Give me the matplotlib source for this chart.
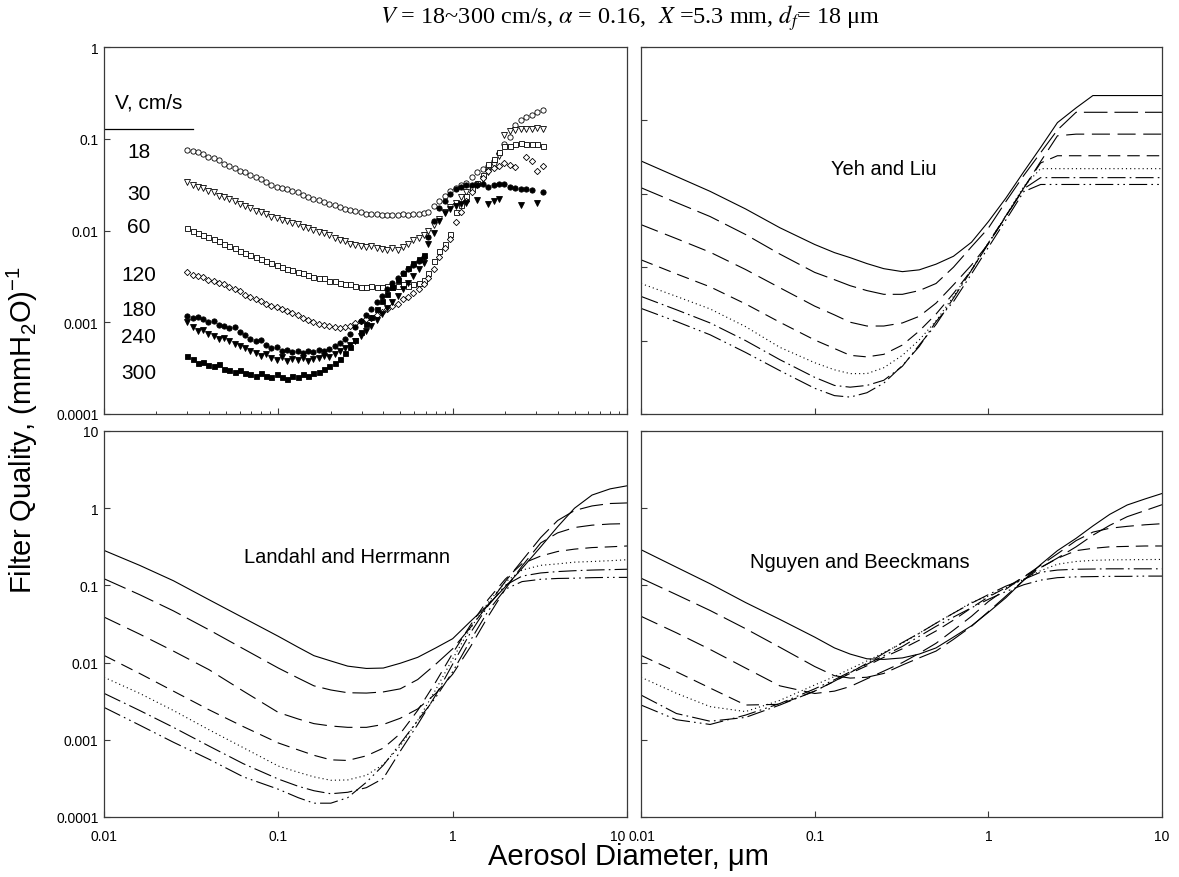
import numpy as np
import matplotlib
matplotlib.use('Agg')
import matplotlib.pyplot as plt
import matplotlib.transforms as mtransforms
from matplotlib.ticker import FixedLocator, NullLocator, NullFormatter, FixedFormatter

plt.rcParams['font.family'] = ['Liberation Sans', 'DejaVu Sans']
plt.rcParams['mathtext.fontset'] = 'custom'
plt.rcParams['mathtext.rm'] = 'Liberation Sans'
plt.rcParams['mathtext.it'] = 'Liberation Sans:italic'
plt.rcParams['lines.scale_dashes'] = False

# ---------------- data ----------------
velocities = ['18', '30', '60', '120', '180', '240', '300']

smps_d = [0.0300, 0.0322, 0.0345, 0.0370, 0.0396, 0.0425, 0.0455, 0.0488, 0.0523, 0.0561,
          0.0601, 0.0644, 0.0691, 0.0740, 0.0794, 0.0851, 0.0912, 0.0977, 0.105, 0.112,
          0.120, 0.129, 0.138, 0.148, 0.159, 0.170, 0.182, 0.196, 0.210, 0.225,
          0.241, 0.258, 0.277, 0.297, 0.318, 0.341, 0.366, 0.392, 0.420, 0.451,
          0.483, 0.518, 0.555, 0.595, 0.638, 0.684]
aps_d = [0.72, 0.78, 0.84, 0.90, 0.965, 1.04, 1.11, 1.20, 1.29, 1.38, 1.49, 1.60, 1.72, 1.84,
         1.98, 2.13, 2.29, 2.46, 2.64, 2.84, 3.05, 3.28]
nan = float('nan')

e18_smps = [0.075, 0.073, 0.071, 0.068, 0.064, 0.061, 0.058, 0.053, 0.050, 0.048, 0.045, 0.043,
            0.040, 0.038, 0.036, 0.034, 0.031, 0.030, 0.029, 0.028, 0.027, 0.026, 0.0245, 0.023,
            0.022, 0.0215, 0.0205, 0.0195, 0.019, 0.018, 0.0172, 0.0167, 0.0162, 0.0158, 0.0153,
            0.0150, 0.0152, 0.0148, 0.0146, 0.0149, 0.0148, 0.0150, 0.0149, 0.0152, 0.0151, 0.0155]
e30_smps = [0.034, 0.031, 0.030, 0.029, 0.027, 0.026, 0.024, 0.023, 0.022, 0.021, 0.0195, 0.0185,
            0.0175, 0.0165, 0.016, 0.015, 0.0142, 0.0136, 0.0131, 0.0127, 0.0122, 0.0117, 0.0110,
            0.0106, 0.0102, 0.0097, 0.0094, 0.0089, 0.0082, 0.0079, 0.0076, 0.0072, 0.0069, 0.0067,
            0.0066, 0.0068, 0.0064, 0.0063, 0.0062, 0.0064, 0.0061, 0.0066, 0.0072, 0.0078, 0.0083,
            0.0090]
e60_smps = [0.0106, 0.0100, 0.0095, 0.0090, 0.0086, 0.0080, 0.0076, 0.0071, 0.0068, 0.0064, 0.0060,
            0.0057, 0.0054, 0.0051, 0.0049, 0.0046, 0.0044, 0.0042, 0.0040, 0.0038, 0.0037, 0.0035,
            0.0034, 0.0033, 0.0031, 0.0030, 0.0030, 0.0028, 0.0028, 0.0027, 0.0026, 0.0026, 0.0025,
            0.0024, 0.0024, 0.0025, 0.0024, 0.0024, 0.0025, 0.0024, 0.0025, 0.0026, 0.0025, 0.0026,
            0.0027, 0.0029]
e120_smps = [0.0035, 0.0033, 0.0032, 0.0031, 0.0029, 0.0028, 0.0027, 0.0026, 0.0024, 0.0023, 0.0022,
             0.0020, 0.0019, 0.0018, 0.0017, 0.0016, 0.0015, 0.00145, 0.0014, 0.00132, 0.00126,
             0.0012, 0.00112, 0.00105, 0.0010, 0.00096, 0.00093, 0.0009, 0.00088, 0.00086, 0.00089,
             0.00092, 0.00097, 0.00103, 0.00108, 0.00112, 0.0012, 0.0013, 0.0014, 0.0015, 0.0016,
             0.0018, 0.0019, 0.0021, 0.0023, 0.0026]
e180_smps = [0.00118, 0.00112, 0.00115, 0.00108, 0.00100, 0.00104, 0.00094, 0.00090, 0.00086,
             0.00088, 0.00078, 0.00072, 0.00066, 0.00062, 0.00064, 0.00056, 0.00052, 0.00054,
             0.00048, 0.00050, 0.00047, 0.00049, 0.00046, 0.00048, 0.00047, 0.00050, 0.00048,
             0.00051, 0.00055, 0.00060, 0.00066, 0.00075, 0.00088, 0.00102, 0.00120, 0.00140,
             0.00165, 0.00195, 0.00230, 0.00265, 0.00300, 0.00340, 0.00380, 0.00420, 0.00470,
             0.00520]
e240_smps = [0.00100, 0.00088, 0.00080, 0.00082, 0.00074, 0.00070, 0.00066, 0.00068, 0.00062,
             0.00058, 0.00055, 0.00052, 0.00048, 0.00046, 0.00043, 0.00045, 0.00041, 0.00039,
             0.00042, 0.00038, 0.00040, 0.00039, 0.00041, 0.00038, 0.00040, 0.00041, 0.00043,
             0.00042, 0.00045, 0.00048, 0.00052, 0.00057, 0.00062, 0.00070, 0.00080, 0.00092,
             0.00105, 0.00122, 0.00142, 0.00165, 0.00195, 0.00230, 0.00270, 0.00320, 0.00380,
             0.00440]
e300_smps = [0.00043, 0.00040, 0.00036, 0.00037, 0.00034, 0.00033, 0.00035, 0.00031, 0.00030,
             0.00029, 0.00030, 0.00028, 0.00027, 0.00026, 0.00028, 0.00026, 0.00025, 0.00027,
             0.00025, 0.00024, 0.00026, 0.00025, 0.00027, 0.00026, 0.00028, 0.00029, 0.00031,
             0.00033, 0.00036, 0.00040, 0.00046, 0.00054, 0.00064, 0.00078, 0.00095, 0.00115,
             0.00140, 0.00170, 0.00205, 0.00245, 0.00290, 0.00340, 0.00390, 0.00440, 0.00490,
             0.00540]

e18_aps = [0.0158, 0.0185, 0.021, 0.024, 0.027, 0.029, 0.031, 0.033, 0.038, 0.043, 0.047, 0.051,
           0.057, 0.070, 0.087, 0.105, 0.140, 0.160, 0.172, 0.182, 0.198, 0.205]
e30_aps = [0.0100, 0.0115, 0.0135, 0.0160, 0.0180, 0.0200, 0.0230, 0.0260, 0.0280, 0.0310, 0.0360,
           0.0430, 0.0520, 0.0650, 0.110, 0.120, 0.125, 0.127, 0.128, 0.128, 0.130, 0.128]
e60_aps = [0.0034, 0.0046, 0.0060, 0.0072, 0.0091, 0.0158, 0.019, 0.0235, 0.029, 0.033, 0.040,
           0.053, 0.060, 0.072, 0.083, 0.083, 0.088, 0.091, 0.087, 0.088, 0.088, 0.083]
e120_aps = [0.0030, 0.0038, 0.0052, 0.0065, 0.0080, 0.0123, 0.016, 0.021, 0.026, 0.032, 0.037,
            0.044, 0.048, 0.050, 0.055, 0.052, 0.049, nan, 0.064, 0.057, 0.044, 0.050]
e180_aps = [0.0086, 0.0126, 0.0174, 0.021, 0.025, 0.028, 0.030, 0.031, 0.031, 0.031, 0.032, 0.030,
            0.031, 0.032, 0.032, 0.030, 0.029, 0.028, 0.028, 0.0275, nan, 0.026]
e240_aps = [0.0072, 0.0095, 0.0126, 0.0156, 0.017, 0.0185, 0.0195, 0.020, nan, 0.0215, nan, 0.0195,
            0.021, 0.022, nan, nan, nan, 0.019, nan, nan, 0.020, nan]
e300_aps = []

model_d = [0.01, 0.016, 0.025, 0.04, 0.063, 0.1, 0.13, 0.16, 0.2, 0.25, 0.32, 0.4, 0.5, 0.63,
           0.8, 1.0, 1.26, 1.6, 2.0, 2.5, 3.2, 4.0, 5.0, 6.3, 8.0, 10.0]

yeh_18 = [0.280, 0.172, 0.108, 0.0622, 0.0345, 0.0204, 0.0158, 0.0135, 0.0112, 0.00955, 0.0087,
          0.0092, 0.011, 0.0141, 0.0219, 0.0417, 0.087, 0.20, 0.427, 0.933, 1.48, 2.18, 2.18,
          2.18, 2.18, 2.18]
yeh_30 = [0.121, 0.0759, 0.049, 0.0279, 0.0151, 0.0085, 0.00676, 0.0056, 0.0048, 0.00427, 0.00427,
          0.0048, 0.006, 0.010, 0.019, 0.034, 0.078, 0.178, 0.363, 0.74, 1.29, 1.29, 1.29, 1.29,
          1.29, 1.29]
yeh_60 = [0.038, 0.0245, 0.016, 0.0093, 0.00525, 0.00295, 0.00224, 0.00178, 0.00158, 0.00158,
          0.00174, 0.00214, 0.00324, 0.00575, 0.0107, 0.0209, 0.049, 0.12, 0.275, 0.617, 0.65,
          0.65, 0.65, 0.65, 0.65, 0.65]
yeh_120 = [0.0126, 0.0081, 0.0054, 0.00316, 0.00178, 0.00102, 0.00078, 0.00063, 0.0006, 0.00065,
           0.00087, 0.00135, 0.0023, 0.0044, 0.0091, 0.0214, 0.050, 0.12, 0.263, 0.33, 0.33, 0.33,
           0.33, 0.33, 0.33, 0.33]
yeh_180 = [0.006, 0.004, 0.0027, 0.00155, 0.00081, 0.0005, 0.0004, 0.000355, 0.000355, 0.000427,
           0.00063, 0.00102, 0.00186, 0.004, 0.0093, 0.0214, 0.050, 0.126, 0.22, 0.22, 0.22, 0.22,
           0.22, 0.22, 0.22, 0.22]
yeh_240 = [0.004, 0.00263, 0.00174, 0.001, 0.00055, 0.000316, 0.000245, 0.000232, 0.000245,
           0.000288, 0.000447, 0.00087, 0.00166, 0.0038, 0.0091, 0.0209, 0.049, 0.117, 0.166,
           0.166, 0.166, 0.166, 0.166, 0.166, 0.166, 0.166]
yeh_300 = [0.00275, 0.00182, 0.0012, 0.00069, 0.00039, 0.000224, 0.000178, 0.00017, 0.000195,
           0.000263, 0.000457, 0.00083, 0.00182, 0.0034, 0.0081, 0.0186, 0.0437, 0.107, 0.134,
           0.134, 0.134, 0.134, 0.134, 0.134, 0.134, 0.134]

lh_18 = [0.284, 0.182, 0.115, 0.0653, 0.038, 0.0219, 0.0158, 0.0123, 0.0105, 0.0090, 0.0084,
         0.0085, 0.0098, 0.0117, 0.0155, 0.0204, 0.0339, 0.0562, 0.0955, 0.166, 0.316, 0.575, 1.0,
         1.48, 1.78, 1.95]
lh_30 = [0.122, 0.0759, 0.0468, 0.0266, 0.0151, 0.0085, 0.0063, 0.0050, 0.00442, 0.00407, 0.00403,
         0.00417, 0.00457, 0.00603, 0.00955, 0.0151, 0.0282, 0.0562, 0.112, 0.209, 0.417, 0.692,
         0.933, 1.07, 1.15, 1.17]
lh_60 = [0.0389, 0.0234, 0.0141, 0.0081, 0.00427, 0.00226, 0.00186, 0.00162, 0.00151, 0.00145,
         0.00145, 0.00158, 0.0019, 0.00251, 0.00398, 0.00708, 0.0158, 0.0398, 0.0891, 0.178, 0.355,
         0.479, 0.562, 0.603, 0.624, 0.631]
lh_120 = [0.0124, 0.00724, 0.00427, 0.00245, 0.00148, 0.00091, 0.00074, 0.00063, 0.00055, 0.00054,
          0.00062, 0.00078, 0.0012, 0.0024, 0.00562, 0.0132, 0.0302, 0.0661, 0.12, 0.191, 0.24,
          0.275, 0.295, 0.309, 0.316, 0.324]
lh_180 = [0.00646, 0.004, 0.0024, 0.00135, 0.00079, 0.000457, 0.00038, 0.000331, 0.000299,
          0.000302, 0.000347, 0.000479, 0.00083, 0.00178, 0.00447, 0.0112, 0.0275, 0.0603, 0.11,
          0.158, 0.182, 0.19, 0.20, 0.204, 0.209, 0.215]
lh_240 = [0.004, 0.0024, 0.00145, 0.00083, 0.00049, 0.00031, 0.00025, 0.000219, 0.0002, 0.000209,
          0.00024, 0.000316, 0.00071, 0.00158, 0.0038, 0.00955, 0.024, 0.055, 0.10, 0.132, 0.145,
          0.151, 0.155, 0.158, 0.16, 0.162]
lh_300 = [0.00263, 0.00155, 0.00093, 0.00056, 0.000331, 0.000229, 0.000178, 0.000151, 0.000151,
          0.000178, 0.000282, 0.000468, 0.00089, 0.00178, 0.00355, 0.00759, 0.0191, 0.0468, 0.0891,
          0.112, 0.12, 0.123, 0.124, 0.126, 0.127, 0.127]

nb_18 = [0.29, 0.172, 0.105, 0.060, 0.0363, 0.0214, 0.0155, 0.0129, 0.0112, 0.011, 0.0115, 0.0129,
         0.0155, 0.0214, 0.030, 0.0447, 0.069, 0.117, 0.186, 0.282, 0.407, 0.589, 0.832, 1.10,
         1.32, 1.55]
nb_30 = [0.124, 0.0759, 0.0473, 0.0275, 0.0158, 0.0089, 0.00676, 0.0063, 0.00646, 0.00724, 0.0093,
         0.0115, 0.0141, 0.020, 0.0295, 0.0457, 0.0724, 0.117, 0.17, 0.226, 0.316, 0.447, 0.60,
         0.776, 0.933, 1.11]
nb_60 = [0.0398, 0.0243, 0.0148, 0.0085, 0.005, 0.00398, 0.00427, 0.0049, 0.00617, 0.00776, 0.010,
         0.0132, 0.0178, 0.0263, 0.0398, 0.0617, 0.0891, 0.129, 0.182, 0.257, 0.38, 0.49, 0.55,
         0.582, 0.61, 0.63]
nb_120 = [0.0124, 0.0076, 0.00468, 0.00282, 0.00288, 0.00427, 0.00575, 0.00724, 0.0091, 0.0117,
          0.0151, 0.0195, 0.0257, 0.0355, 0.0513, 0.0708, 0.0933, 0.129, 0.17, 0.224, 0.282, 0.302,
          0.316, 0.32, 0.324, 0.324]
nb_180 = [0.00646, 0.004, 0.00269, 0.00232, 0.00324, 0.00513, 0.0066, 0.0083, 0.0105, 0.0135,
          0.0178, 0.024, 0.0324, 0.0437, 0.0603, 0.0724, 0.0933, 0.12, 0.155, 0.188, 0.204, 0.211,
          0.214, 0.215, 0.216, 0.217]
nb_240 = [0.0038, 0.00219, 0.00174, 0.00195, 0.00282, 0.00427, 0.00575, 0.0074, 0.0098, 0.0132,
          0.0182, 0.024, 0.0324, 0.0437, 0.0589, 0.0759, 0.0977, 0.12, 0.148, 0.158, 0.162, 0.163,
          0.164, 0.164, 0.164, 0.164]
nb_300 = [0.00282, 0.00182, 0.00158, 0.00209, 0.00295, 0.00457, 0.006, 0.0076, 0.0095, 0.0123,
          0.0162, 0.0219, 0.0295, 0.0389, 0.0513, 0.066, 0.0832, 0.102, 0.117, 0.126, 0.129, 0.13,
          0.131, 0.131, 0.132, 0.132]

x_ticks = [0.01, 0.1, 1, 10]
x_ticklabels = ['0.01', '0.1', '1', '10']
y_ticks_top = [1e-4, 1e-3, 1e-2, 1e-1, 1]
y_ticklabels_top = ['0.0001', '0.001', '0.01', '0.1', '1']
y_ticks_bot = [1e-4, 1e-3, 1e-2, 1e-1, 1, 10]
y_ticklabels_bot = ['0.0001', '0.001', '0.01', '0.1', '1', '10']

# ---------------- figure ----------------
W, H = 1179, 878
fig = plt.figure(figsize=(W / 100, H / 100), dpi=100)


def add(l, r, t, b):
    return fig.add_axes([l / W, 1 - b / H, (r - l) / W, (b - t) / H])


ax_tl = add(104, 627, 48, 415)
ax_tr = add(641, 1162, 48, 415)
ax_bl = add(104, 627, 432, 818)
ax_br = add(641, 1162, 432, 818)

spine_col = '#3a3a3a'
for ax in (ax_tl, ax_tr, ax_bl, ax_br):
    ax.set_xscale('log')
    ax.set_yscale('log')
    ax.set_xlim(0.01, 10)
    for s in ax.spines.values():
        s.set_color(spine_col)
        s.set_linewidth(0.9)
    ax.tick_params(which='both', direction='in', top=False, right=False,
                   color=spine_col, labelsize=10, pad=4)
    ax.tick_params(which='major', length=4.5, width=0.8)
    ax.tick_params(which='minor', length=2.5, width=0.7)
    ax.tick_params(axis='x', which='both', pad=9)
    ax.xaxis.set_major_locator(FixedLocator(x_ticks))
    ax.yaxis.set_minor_locator(NullLocator())

ax_tl.set_ylim(1e-4, 1)
for ax in (ax_tr, ax_bl, ax_br):
    ax.set_ylim(1e-4, 10)

# minor x ticks only in top-left
ax_tl.xaxis.set_minor_locator(FixedLocator(
    [m * 10.0 ** e for e in (-2, -1, 0) for m in range(2, 10)]))
ax_tl.xaxis.set_minor_formatter(NullFormatter())
for ax in (ax_tr, ax_bl, ax_br):
    ax.xaxis.set_minor_locator(NullLocator())

ax_tl.yaxis.set_major_locator(FixedLocator(y_ticks_top))
ax_tl.yaxis.set_major_formatter(FixedFormatter(y_ticklabels_top))
ax_tl.xaxis.set_major_formatter(NullFormatter())

ax_tr.yaxis.set_major_locator(FixedLocator(y_ticks_bot))
ax_tr.yaxis.set_major_formatter(NullFormatter())
ax_tr.xaxis.set_major_formatter(NullFormatter())

ax_bl.yaxis.set_major_locator(FixedLocator(y_ticks_bot))
ax_bl.yaxis.set_major_formatter(FixedFormatter(y_ticklabels_bot))
ax_bl.xaxis.set_major_formatter(FixedFormatter(x_ticklabels))

ax_br.yaxis.set_major_locator(FixedLocator(y_ticks_bot))
ax_br.yaxis.set_major_formatter(NullFormatter())
ax_br.xaxis.set_major_formatter(FixedFormatter(x_ticklabels))

# ---------------- experimental data (top-left) ----------------
exp_smps = [e18_smps, e30_smps, e60_smps, e120_smps, e180_smps, e240_smps, e300_smps]
exp_aps = [e18_aps, e30_aps, e60_aps, e120_aps, e180_aps, e240_aps, e300_aps]
markers = ['o', 'v', 's', 'D', 'o', 'v', 's']
faces = ['white', 'white', 'white', 'white', 'black', 'black', 'black']
msizes = [3.8, 4.0, 3.6, 3.2, 3.8, 4.0, 3.6]
for ys, ya, m, fc, ms in zip(exp_smps, exp_aps, markers, faces, msizes):
    xs = list(smps_d) + list(aps_d[:len(ya)])
    yv = list(ys) + list(ya)
    ax_tl.plot(xs, yv, linestyle='none', marker=m, markersize=ms,
               markerfacecolor=fc, markeredgecolor='black', markeredgewidth=0.6)

# legend-like labels
ax_tl.text(0.086, 0.850, 'V, cm/s', transform=ax_tl.transAxes, ha='center', va='center',
           fontsize=15)
ax_tl.plot([0.002, 0.17], [0.7766, 0.7766], transform=ax_tl.transAxes, color='black',
           lw=0.9, clip_on=False)
label_y = [0.7166, 0.602, 0.512, 0.379, 0.286, 0.210, 0.114]
for v, yy in zip(velocities, label_y):
    ax_tl.text(0.066, yy, v, transform=ax_tl.transAxes, ha='center', va='center', fontsize=15)

# ---------------- model curves ----------------
styles = ['-', (0, (17, 5)), (0, (13, 5.5)), (0, (9, 5)), (0, (0.8, 2.2)),
          (0, (13, 3, 1.2, 3)), (0, (13, 3, 1.2, 3, 1.2, 3))]
models = [
    (ax_tr, [yeh_18, yeh_30, yeh_60, yeh_120, yeh_180, yeh_240, yeh_300], 'Yeh and Liu',
     0.466, 0.668),
    (ax_bl, [lh_18, lh_30, lh_60, lh_120, lh_180, lh_240, lh_300], 'Landahl and Herrmann',
     0.465, 0.676),
    (ax_br, [nb_18, nb_30, nb_60, nb_120, nb_180, nb_240, nb_300], 'Nguyen and Beeckmans',
     0.420, 0.661),
]
for ax, curves, name, tx, ty in models:
    for yv, ls in zip(curves, styles):
        ax.plot(model_d, yv, color='black', lw=0.8, linestyle=ls)
    ax.text(tx, ty, name, transform=ax.transAxes, ha='center', va='center', fontsize=14.5)

# the adjoining "10" / "0.01" tick labels: set them side by side without overlap
fig.canvas.draw()
for lab in ax_bl.get_xticklabels():
    if lab.get_text() == '10':
        lab.set_transform(lab.get_transform() +
                          mtransforms.ScaledTranslation(-9 / 100, 0, fig.dpi_scale_trans))
for lab in ax_br.get_xticklabels():
    if lab.get_text() == '0.01':
        lab.set_transform(lab.get_transform() +
                          mtransforms.ScaledTranslation(1 / 100, 0, fig.dpi_scale_trans))

# ---------------- titles / labels ----------------
fig.text(630 / W, 1 - 18 / H,
         r'$V$ = 18~300 cm/s, $\alpha$ = 0.16,  $X$ =5.3 mm, $d_f$= 18 μm',
         ha='center', va='center', fontsize=17.5, family='Liberation Serif',
         math_fontfamily='stix')
fig.text(22 / W, 1 - 430 / H, r'Filter Quality, (mmH$_2$O)$^{-1}$', rotation=90,
         ha='center', va='center', fontsize=21)
fig.text(628 / W, 1 - 857 / H, 'Aerosol Diameter, μm', ha='center', va='center', fontsize=21)

fig.savefig('out.png', dpi=100)
